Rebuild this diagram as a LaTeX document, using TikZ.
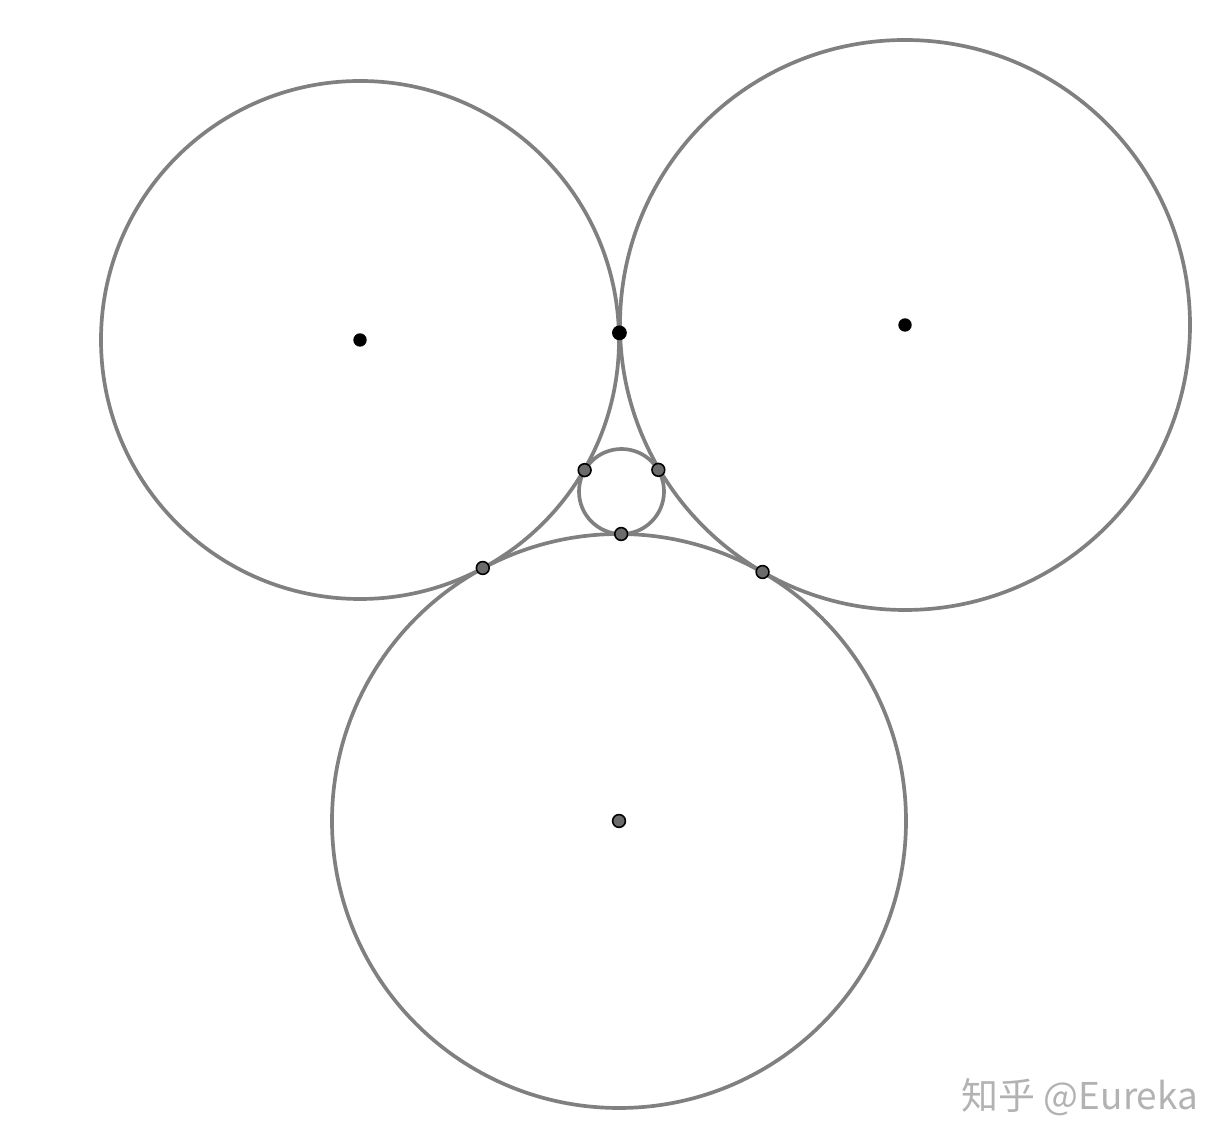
\documentclass[tikz,border=0pt]{standalone}
\usepackage{fontspec}
\newfontfamily\cjkfont{Noto Sans CJK SC}
\usetikzlibrary{calc}

\begin{document}
\begin{tikzpicture}[circ/.style={black!50, line width=1.05pt},
  gdot/.style={fill=black!58, draw=black, line width=0.45pt},
  wm/.style={text=black!30, font=\cjkfont\fontsize{10.5}{12}\selectfont}]
\useasboundingbox (0,0) rectangle (12.32,11.46);
% centres
\coordinate (A) at (3.60,8.06);
\coordinate (B) at (9.05,8.21);
\coordinate (C) at (6.19,3.25);
\coordinate (S) at (6.215,6.545);
\foreach \c/\r in {A/2.59, B/2.85, C/2.87, S/0.425} {
 \draw[circ] (\c) circle (\r);
}
% points of contact
\coordinate (AB) at ($(A)!0.476!(B)$);
\coordinate (AC) at ($(A)!0.474!(C)$);
\coordinate (BC) at ($(B)!0.498!(C)$);
\coordinate (SA) at ($(S)!0.141!(A)$);
\coordinate (SB) at ($(S)!0.130!(B)$);
\coordinate (SC) at ($(S)!0.129!(C)$);
\foreach \p in {AC, BC, SA, SB, SC, C} {
 \filldraw[gdot] (\p) circle (0.064);
}
\fill[black] (A) circle (0.067);
\fill[black] (B) circle (0.067);
\fill[black] (AB) circle (0.074);
\node[wm] (mark) at (10.80,0.49) {知乎 @Eureka};
\end{tikzpicture}
\end{document}
